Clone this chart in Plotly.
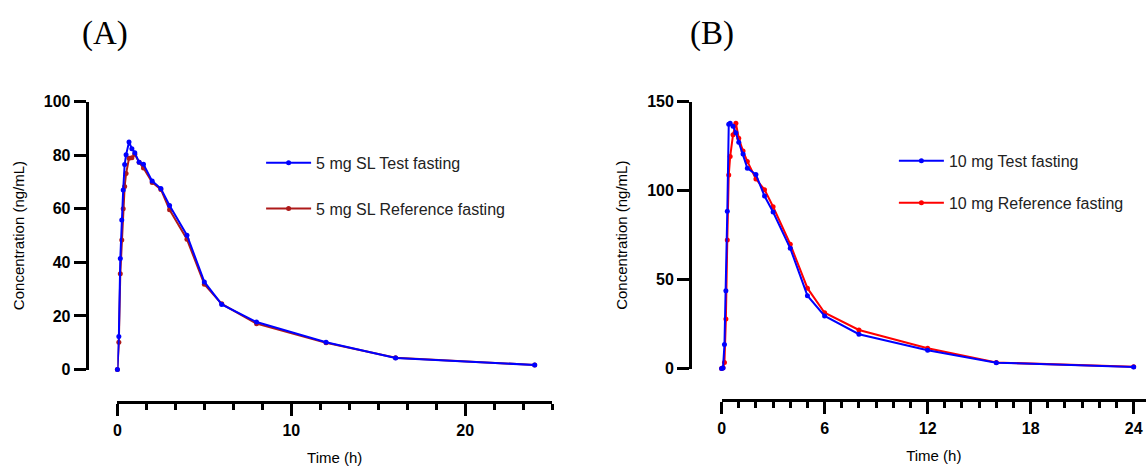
import plotly.graph_objects as go

W, H = 1146, 473

# ---- data ----
time_h = [0, 0.083, 0.167, 0.25, 0.333, 0.417, 0.5, 0.667, 0.833, 1, 1.25, 1.5,
          2, 2.5, 3, 4, 5, 6, 8, 12, 16, 24]

a_test = [0, 12.3, 41.4, 55.8, 67.0, 76.5, 80.1, 84.9, 82.4, 80.9, 77.3, 76.6,
          70.3, 67.5, 61.2, 50.1, 32.7, 24.3, 17.7, 10.2, 4.3, 1.7]
a_ref = [0, 10.2, 35.7, 48.3, 60.0, 68.3, 73.1, 78.8, 79.0, 80.3, 77.3, 75.2,
         69.8, 67.2, 59.6, 48.6, 31.8, 24.5, 17.1, 10.0, 4.4, 1.7]

b_test = [0, 0.3, 13.5, 43.7, 88.4, 137.4, 138.0, 136.2, 132.6, 127.3, 120.6, 112.7,
          109.1, 97.0, 88.0, 67.6, 41.0, 29.6, 19.3, 10.3, 3.3, 0.9]
b_ref = [0, 0.5, 3.4, 27.8, 72.3, 108.8, 119.2, 131.5, 138.0, 129.5, 122.3, 116.5,
         106.6, 100.6, 91.0, 69.9, 45.2, 31.4, 21.7, 11.4, 3.4, 1.0]

a_names = ["5 mg SL Test fasting", "5 mg SL Reference fasting"]
b_names = ["10 mg Test fasting", "10 mg Reference fasting"]
panel_labels = ["(A)", "(B)"]
x_title = "Time (h)"
y_title = "Concentration (ng/mL)"

a_yticks = [0, 20, 40, 60, 80, 100]
b_yticks = [0, 50, 100, 150]
a_xticks = [0, 10, 20]
b_xticks = [0, 6, 12, 18, 24]

BLUE = "#0000FF"
DARKRED = "#AE1A1A"
RED = "#FF0000"

fig = go.Figure()

def add(x, y, name, color, xa, ya, legend, group, rank):
    fig.add_trace(go.Scatter(
        x=x, y=y, name=name, mode="lines+markers",
        line=dict(color=color, width=2),
        marker=dict(color=color, size=5),
        xaxis=xa, yaxis=ya, legend=legend, legendgroup=group, legendrank=rank,
        cliponaxis=False))

add(time_h, a_ref, a_names[1], DARKRED, "x", "y", "legend", "a2", 2)
add(time_h, a_test, a_names[0], BLUE, "x", "y", "legend", "a1", 1)
add(time_h, b_ref, b_names[1], RED, "x2", "y2", "legend2", "b2", 2)
add(time_h, b_test, b_names[0], BLUE, "x2", "y2", "legend2", "b1", 1)

def px_x(p):
    return p / W

def px_y(p):
    return (H - p) / H

FONT = "Liberation Sans, Arial"
tickfont = dict(family=FONT, size=16, color="black", weight="bold")
titlefont = dict(family=FONT, size=15, color="black")

axis_common = dict(showline=True, linewidth=3, linecolor="black", ticks="outside",
                   tickwidth=3, tickcolor="black", ticklen=12, showgrid=False,
                   zeroline=False, tickfont=tickfont, fixedrange=True)

fig.update_layout(
    width=W, height=H,
    margin=dict(l=0, r=0, t=0, b=0),
    paper_bgcolor="white", plot_bgcolor="white",
    xaxis=dict(domain=[px_x(113.8), px_x(550)], range=[0, 25], anchor="free",
               position=px_y(409), tickvals=a_xticks,
               minor=dict(dtick=10 / 6, tick0=0, ticklen=6, tickwidth=3,
                          tickcolor="black", ticks="outside"),
               title=dict(text=x_title, font=titlefont, standoff=14),
               **axis_common),
    yaxis=dict(domain=[px_y(375), px_y(97)], range=[0, 100], anchor="free",
               position=px_x(83), tickvals=a_yticks,
               title=dict(text=y_title, font=titlefont, standoff=14),
               **axis_common),
    xaxis2=dict(domain=[px_x(720.1), 1.0], range=[0, (W - 720.1) / 17.23], anchor="free",
                position=px_y(407), tickvals=b_xticks,
                minor=dict(dtick=1, tick0=0, ticklen=6, tickwidth=3,
                           tickcolor="black", ticks="outside"),
                title=dict(text=x_title, font=titlefont, standoff=14),
                **axis_common),
    yaxis2=dict(domain=[px_y(374), px_y(97.3)], range=[0, 150], anchor="free",
                position=px_x(688.5), tickvals=b_yticks,
                title=dict(text=y_title, font=titlefont, standoff=14),
                **axis_common),
    legend=dict(x=px_x(258), y=px_y(143), xanchor="left", yanchor="top",
                font=dict(family=FONT, size=16, color="#222"),
                itemwidth=45, tracegroupgap=22, bgcolor="rgba(0,0,0,0)",
                traceorder="grouped"),
    legend2=dict(x=px_x(893), y=px_y(141), xanchor="left", yanchor="top",
                 font=dict(family=FONT, size=16, color="#222"),
                 itemwidth=45, tracegroupgap=18, bgcolor="rgba(0,0,0,0)",
                 traceorder="grouped"),
    showlegend=True,
)

for txt, xp in zip(panel_labels, [101, 710]):
    fig.add_annotation(text=txt, x=px_x(xp), y=px_y(26), xref="paper", yref="paper",
                       showarrow=False, xanchor="center", yanchor="middle",
                       font=dict(family="Liberation Serif, Times New Roman", size=33,
                                 color="black"))

fig.write_html("out.html", config={"displayModeBar": False},
               post_script="document.body.style.margin='0';document.body.style.overflow='hidden';")
